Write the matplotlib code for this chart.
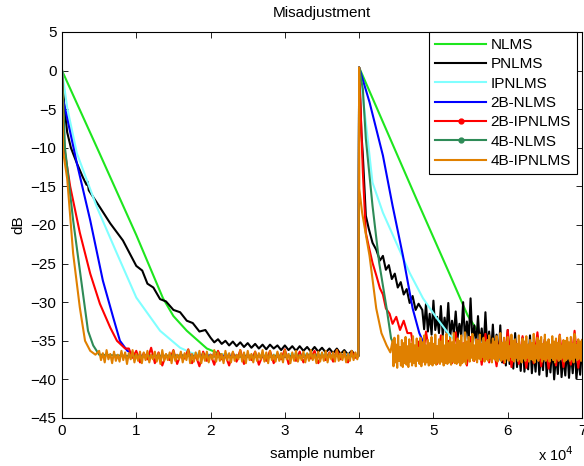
import numpy as np
import matplotlib.pyplot as plt
from matplotlib.lines import Line2D

plt.rcParams['font.family'] = ['Liberation Sans', 'DejaVu Sans']

labels = ['NLMS', 'PNLMS', 'IPNLMS', '2B-NLMS', '2B-IPNLMS', '4B-NLMS', '4B-IPNLMS']
colors = ['#1ee61e', '#000000', '#80ffff', '#0000ff', '#ff0000', '#2e8b57', '#e08000']

# --- NLMS (green) ---
nlms_x1 = [0, 5000, 10000, 13600, 15000, 16800, 19500, 21500, 26000, 30000, 34000, 39900]
nlms_y1 = [0, -10.6, -21.3, -29.5, -31.8, -33.7, -36, -36.8, -36.9, -37.1, -36.9, -37]
nlms_x2 = [40000, 41000, 47700, 52200, 54600, 55800, 57000, 58500, 60000, 65000, 70000]
nlms_y2 = [0.4, -1.8, -16.6, -26.4, -31.7, -33.5, -35, -36, -36.3, -36.5, -36.6]

# --- PNLMS (black) ---
pnlms_x1 = [0, 300, 700, 1200, 2000, 2800, 3300, 3450, 3600, 5100, 6500, 8200,
            10000, 10800, 11500, 12300, 13200, 14000, 15000, 15900, 16800, 17600, 18500, 19300]
pnlms_y1 = [0, -4.5, -8, -10, -12, -13.8, -14.8, -14.4, -15.5, -17.7, -19.8, -22,
            -25.3, -25.9, -27.6, -28.1, -29.6, -29.9, -31.0, -31.3, -32.4, -32.7, -33.8, -33.6]
pnlms_s1 = [-34.6, -35.2, -34.8, -35.4, -35.0, -35.6, -35.1, -35.7, -35.2, -35.8,
            -35.3, -35.9, -35.4, -36.0, -35.5, -36.1, -35.5, -36.0, -35.6, -36.2,
            -35.6, -36.2, -35.7, -36.3, -35.7, -36.3, -35.8, -36.4, -35.8, -36.4,
            -35.9, -36.5, -36.0, -36.6, -36.0, -36.7, -36.2, -36.8, -36.3, -36.9]
pnlms_x2 = [39900, 40000, 40300, 40500, 40900, 41300, 41800, 42300, 42800, 43200, 43600,
            44000, 44400, 44800, 45200, 45600, 46000, 46400, 46800, 47200, 47600, 48000]
pnlms_y2 = [-36.9, 0.4, -8, -11, -18.8, -20.5, -22.3, -23.2, -24.6, -24.0, -25.8,
            -25.2, -27.0, -26.3, -28.1, -27.4, -29.0, -28.3, -30.1, -29.2, -31.0, -30.2]
pnlms_s2 = [-31.0, -33.5, -30.2, -33.8, -31.5, -34.2, -29.8, -33.6, -31.9, -34.0,
            -30.5, -34.3, -32.0, -33.9, -30.1, -34.5, -32.4, -34.1, -31.2, -34.6,
            -32.8, -34.4, -30.0, -35.0, -32.5, -34.8, -29.5, -35.2, -33.0, -35.4,
            -31.8, -35.6, -33.4, -36.2, -31.3, -36.0, -33.8, -36.8, -32.9, -37.0,
            -34.2, -37.5, -33.0, -37.8, -35.0, -38.2, -33.6, -38.0, -35.4, -38.6,
            -34.0, -38.4, -35.8, -38.9, -34.6, -39.0, -36.0, -38.7, -34.3, -39.2,
            -36.2, -39.0, -35.0, -39.4, -36.5, -38.8, -34.8, -39.6, -36.4, -39.1,
            -35.5, -40.0, -36.8, -39.3, -35.2, -39.7, -37.0, -39.5, -35.8, -39.8,
            -36.4, -39.2, -35.6, -39.9, -37.1, -39.4, -36.0]

# --- IPNLMS (light cyan) ---
ipnlms_x1 = [0, 700, 2000, 4700, 7400, 10000, 13200, 15900, 17500, 20000, 26000, 32000, 39900]
ipnlms_y1 = [0, -4.8, -10.7, -17.7, -23.7, -29.4, -33.7, -35.9, -36.6, -36.8, -36.9, -36.7, -36.8]
ipnlms_x2 = [40000, 40900, 41800, 43200, 45000, 46800, 48600, 50400, 52200, 54000, 56000,
             60000, 65000, 70000]
ipnlms_y2 = [0.4, -6.7, -14.5, -18.4, -22.3, -26.2, -29.5, -32, -34.3, -35.8, -36.4,
             -37.0, -37.2, -37.0]

# --- 2B-NLMS (blue) ---
nlms2b_x1 = [0, 100, 2000, 3800, 5500, 6900, 7800, 8800, 10000, 14000, 20000, 26000, 32000, 39900]
nlms2b_y1 = [0, -3.5, -12, -19.4, -27.2, -32, -35, -36.3, -36.9, -37.0, -36.9, -37.0, -37.1, -36.9]
nlms2b_x2 = [40000, 41400, 43200, 44500, 45900, 47200, 48100, 49000, 50000, 55000, 60000, 65000, 70000]
nlms2b_y2 = [0.4, -4.1, -11, -17.5, -24, -30.8, -34, -36, -36.5, -36.4, -36.6, -36.5, -36.6]

# --- 2B-IPNLMS (red) ---
ipnlms2b_x1 = [0, 300, 1100, 2400, 3800, 5100, 6500, 7400, 8500]
ipnlms2b_y1 = [0, -10, -15, -21, -26.3, -30.2, -33.3, -35, -36]
ipnlms2b_s1 = [-36.0, -37.2, -36.3, -37.8, -36.6, -37.4, -35.9, -37.9, -36.5, -38.2,
               -36.8, -37.5, -36.2, -38.0, -36.7, -37.3, -36.1, -37.9, -36.9, -38.3,
               -36.4, -37.6, -36.8, -38.1, -36.3, -37.4, -36.9, -38.2, -36.5, -37.7,
               -36.2, -38.0, -36.7, -37.5, -36.4, -38.1, -36.9, -37.6, -36.3, -37.9,
               -36.6, -37.4, -36.1, -38.0, -36.8, -37.6, -36.4, -37.8, -36.7, -37.3,
               -36.3, -37.9, -36.8, -37.5, -36.5, -37.7, -36.2, -37.4, -36.6, -37.8,
               -36.4, -37.2]
ipnlms2b_x2 = [39900, 40000, 40500, 40900, 41300, 41800, 42300, 42800, 43200, 43600,
               44100, 44500, 45000, 45500, 46000, 46500]
ipnlms2b_y2 = [-37.0, 0.4, -13.2, -21, -22.8, -24.9, -26.5, -28.2, -29.0, -30.8,
               -31.5, -32.8, -31.9, -33.6, -32.4, -34.0]
ipnlms2b_s2 = [-34.0, -37.2, -35.1, -37.8, -33.8, -37.0, -35.4, -38.0, -34.3, -37.5,
               -35.0, -37.9, -33.9, -37.3, -35.3, -38.2, -34.5, -37.6, -34.9, -38.1,
               -34.1, -37.8, -35.2, -38.3, -34.6, -37.9, -33.6, -38.4, -35.0, -38.0,
               -34.4, -38.5, -35.3, -37.9, -33.9, -38.3, -34.8, -38.6, -35.1, -38.2,
               -34.2, -38.4, -35.0, -38.1, -33.7, -38.5, -34.9]

# --- 4B-NLMS (sea green) ---
nlms4b_x1 = [0, 400, 1500, 2700, 3500, 4200, 5000, 10000, 16000, 22000, 28000, 34000, 39900]
nlms4b_y1 = [0, -10, -19.4, -28, -33.7, -35.6, -36.8, -37.0, -36.9, -37.1, -37.0, -36.9, -37.0]
nlms4b_x2 = [40000, 40500, 40900, 41800, 42700, 43700, 44300, 45000, 50000, 55000, 60000, 65000, 70000]
nlms4b_y2 = [0.4, -2.4, -8.8, -17.5, -24.9, -30.8, -34.7, -36.2, -36.4, -36.5, -36.6, -36.4, -36.5]

# --- 4B-IPNLMS (orange) ---
ipnlms4b_x1 = [0, 150, 700, 1500, 2400, 3100, 3800, 4500]
ipnlms4b_y1 = [0, -10.5, -14, -23.7, -30.7, -35, -36.3, -36.8]
ipnlms4b_s1 = [-36.3, -37.5, -36.6, -37.8, -36.2, -37.4, -36.7, -37.9, -36.4, -37.6,
               -36.8, -37.7, -36.3, -37.5, -36.5, -38.0, -36.6, -37.4, -36.2, -37.8,
               -36.7, -37.6, -36.4, -37.9, -36.5, -37.5, -36.3, -37.8, -36.8, -37.4,
               -36.4, -37.7, -36.6, -38.0, -36.2, -37.6, -36.7, -37.5, -36.5, -37.9,
               -36.3, -37.6, -36.8, -37.4, -36.4, -37.8, -36.6, -37.5, -36.2, -37.9,
               -36.7, -37.7, -36.5, -37.5, -36.3, -37.9, -36.6, -37.6, -36.4, -37.8,
               -36.8, -37.4, -36.2, -37.7, -36.5, -37.6, -36.7, -37.9, -36.3, -37.5,
               -36.6, -37.8, -36.4, -37.6, -36.8, -37.4, -36.2, -37.7, -36.5, -37.9,
               -36.3, -37.5, -36.7, -37.8, -36.4, -37.6, -36.6, -37.4, -36.2, -37.7,
               -36.5, -37.9, -36.3, -37.5, -36.8, -37.7, -36.4, -37.6, -36.6, -37.8,
               -36.2, -37.4, -36.7, -37.9, -36.5, -37.6, -36.3, -37.7, -36.8, -37.5,
               -36.4, -37.8, -36.6, -37.6, -36.2, -37.5, -36.7, -37.9, -36.4, -37.7,
               -36.5, -37.6, -36.3, -37.8, -36.6, -37.4, -36.5, -37.7, -36.2, -37.6,
               -36.6, -37.5, -36.4, -37.8, -36.7, -37.6, -36.3, -37.5, -36.5, -37.4]
ipnlms4b_x2 = [39900, 40000, 40020, 40400, 41400, 42300, 43000, 43700, 44200]
ipnlms4b_y2 = [-36.8, 0.4, -15.3, -18.4, -24, -30.8, -34, -35.6, -36.5]
ipnlms4b_s2 = [-35.0, -38.3, -34.6, -37.8, -35.5, -38.5, -34.3, -37.6, -35.8, -38.2,
               -34.9, -38.4, -35.3, -37.9, -34.5, -38.1, -35.7, -38.4, -34.8, -37.7,
               -35.4, -38.2, -34.4, -37.9, -35.6, -38.3, -34.7, -37.6, -35.9, -38.0,
               -34.6, -38.3, -35.2, -37.7, -34.3, -38.1, -35.6, -37.8, -34.9, -38.2,
               -35.3, -38.0, -34.5, -38.2, -35.4, -37.9, -34.2, -38.1, -35.7, -37.8,
               -34.8, -38.0, -35.1, -37.7, -34.4, -38.2, -35.6, -37.9, -34.1, -38.0,
               -35.3, -37.8, -34.6, -38.1, -35.2, -37.7, -34.0, -37.9, -35.5, -38.0,
               -34.7, -37.8, -35.0, -38.2, -34.3, -37.9, -35.4, -37.7, -33.9, -38.0,
               -35.1, -37.3, -34.5, -37.7, -35.3, -37.2, -34.1, -37.6, -35.6, -37.4,
               -34.8, -37.8, -35.0, -37.3, -34.2, -37.5, -35.4, -37.1, -34.6, -37.7,
               -35.2, -37.4, -34.9, -37.6, -34.3, -37.2, -35.5, -37.8, -34.7, -37.3,
               -35.1, -37.5, -34.4, -37.7, -35.6, -37.2, -34.0, -37.6, -35.3, -37.4,
               -34.6, -37.8, -35.2, -37.3, -34.5, -37.6, -35.7, -37.1, -34.2, -37.5,
               -35.0, -37.7, -34.8, -37.2, -35.4, -37.6, -34.3, -37.4, -35.6, -37.8,
               -34.7, -37.3, -35.1, -37.6, -34.4, -37.2, -35.5, -37.7, -34.9, -37.4,
               -35.3, -37.5, -34.1, -37.8, -35.6, -37.3, -34.6, -37.6, -35.0, -37.2,
               -34.5, -37.7, -35.4, -37.4, -34.2, -37.6, -35.2, -37.3, -34.8, -37.7,
               -35.5, -37.2, -34.4, -37.5, -35.1, -37.8, -34.7, -37.3, -35.3, -37.6,
               -34.3, -37.4, -35.6, -37.2, -34.9, -37.7, -35.0, -37.5, -34.6, -37.3,
               -35.2, -37.6, -34.5, -37.4, -35.4, -37.8, -34.1, -37.2, -35.5, -37.5,
               -34.8, -37.3, -35.1, -37.6, -34.9]


def join(*parts):
    xs, ys = [], []
    for x, y in parts:
        xs += list(x)
        ys += list(y)
    return xs, ys


series = [
    join((nlms_x1, nlms_y1), (nlms_x2, nlms_y2)),
    join((pnlms_x1, pnlms_y1), (np.arange(20000, 39501, 500), pnlms_s1),
         (pnlms_x2, pnlms_y2), (np.arange(48500, 70001, 250), pnlms_s2)),
    join((ipnlms_x1, ipnlms_y1), (ipnlms_x2, ipnlms_y2)),
    join((nlms2b_x1, nlms2b_y1), (nlms2b_x2, nlms2b_y2)),
    join((ipnlms2b_x1, ipnlms2b_y1), (np.arange(9000, 39501, 500), ipnlms2b_s1),
         (ipnlms2b_x2, ipnlms2b_y2), (np.arange(47000, 70001, 500), ipnlms2b_s2)),
    join((nlms4b_x1, nlms4b_y1), (nlms4b_x2, nlms4b_y2)),
    join((ipnlms4b_x1, ipnlms4b_y1), (np.arange(5000, 39751, 250), ipnlms4b_s1),
         (ipnlms4b_x2, ipnlms4b_y2), (np.arange(44500, 70001, 125), ipnlms4b_s2)),
]

fig = plt.figure(figsize=(5.84, 4.66), dpi=100)
ax = fig.add_axes([62 / 584, 48 / 466, 520 / 584, 386 / 466])

for (x, y), c in zip(series, colors):
    ax.plot(x, y, color=c, lw=1.5)

fs = 11
ax.set_xlim(0, 70000)
ax.set_ylim(-45, 5)
ax.set_xticks(np.arange(0, 70001, 10000))
ax.set_xticklabels([str(i) for i in range(8)])
ax.set_yticks(np.arange(-45, 6, 5))
ax.tick_params(direction='in', top=True, right=True, labelsize=fs, length=4, width=0.6, pad=4)
for s in ax.spines.values():
    s.set_linewidth(0.8)

ax.set_title('Misadjustment', fontsize=fs, pad=11)
ax.set_xlabel('sample number', fontsize=fs, labelpad=7)
ax.set_ylabel('dB', fontsize=fs, labelpad=4)
ax.text(0.915, -0.095, 'x 10$^{4}$', transform=ax.transAxes, fontsize=10.5,
        ha='left', va='center')

handles = []
for lab, c in zip(labels, colors):
    mk = '.' if lab in ('2B-IPNLMS', '4B-NLMS') else None
    handles.append(Line2D([], [], color=c, lw=1.5, marker=mk, markersize=7))
leg = ax.legend(handles, labels, loc='upper right', bbox_to_anchor=(0.99, 1.0),
                fontsize=fs, fancybox=False, framealpha=1, edgecolor='black',
                handlelength=3.3, labelspacing=0.35, borderaxespad=0, borderpad=0.4,
                handletextpad=0.3, numpoints=1)
leg.get_frame().set_linewidth(0.8)

fig.savefig('out.png', dpi=100)
